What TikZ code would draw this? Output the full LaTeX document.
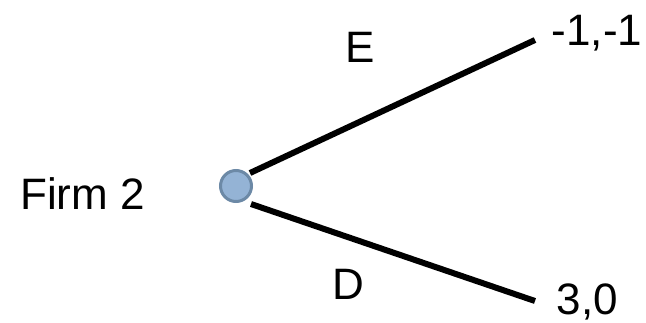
\documentclass[tikz,border=0pt]{standalone}
\usepackage{fontspec}
\setmainfont{Liberation Sans}
\begin{document}
\begin{tikzpicture}[x=1pt,y=-1pt,
  lbl/.style={font=\fontsize{44}{50}\selectfont, inner sep=0pt, anchor=base},
  branch/.style={line width=6pt},
  dec/.style={circle, draw=circedge, fill=circfill, line width=3pt, minimum size=31pt, inner sep=0pt}]
\definecolor{circfill}{HTML}{94B3D5}
\definecolor{circedge}{HTML}{6C89A6}
\useasboundingbox (0,0) rectangle (646,322);
\node[dec] (n) at (236,186) {};
\node[lbl] (firm) at (82.5,209) {Firm 2};
\node[lbl] (E) at (360,62) {E};
\node[lbl] (D) at (348,299) {D};
\node[lbl] (p1) at (597,45) {-1,-1};
\node[lbl] (p2) at (587.5,314) {3,0};
\coordinate (u0) at (250,173);
\coordinate (u1) at (535,40);
\coordinate (l0) at (251,204);
\coordinate (l1) at (535,301);
\draw[branch] (u0) -- (u1);
\draw[branch] (l0) -- (l1);
\end{tikzpicture}
\end{document}
